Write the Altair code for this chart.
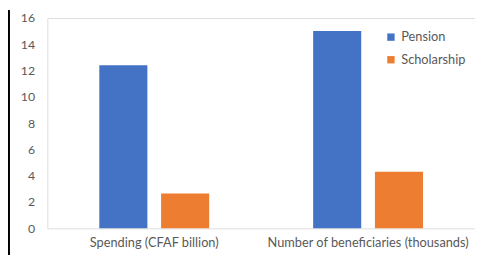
import altair as alt
import pandas as pd

categories = ["Spending (CFAF billion)", "Number of beneficiaries (thousands)"]
series = ["Pension", "Scholarship"]
pension = [12.4, 15.0]
scholarship = [2.65, 4.3]
y_ticks = [0, 2, 4, 6, 8, 10, 12, 14, 16]
colors = ["#4472C4", "#ED7D31"]

rows = []
for c, p, s in zip(categories, pension, scholarship):
    rows.append({"category": c, "series": series[0], "value": p})
    rows.append({"category": c, "series": series[1], "value": s})
df = pd.DataFrame(rows)

FONT = "Lato"
TXT = "#595959"

bars = alt.Chart(df).mark_bar().encode(
    x=alt.X("category:N", sort=categories,
            scale=alt.Scale(paddingInner=0, paddingOuter=0),
            axis=alt.Axis(title=None, labelAngle=0, ticks=False, domain=False,
                          labelFont=FONT, labelFontSize=13, labelColor=TXT,
                          labelPadding=8, labelLimit=0)),
    xOffset=alt.XOffset("series:N", sort=series,
                        scale=alt.Scale(paddingInner=0.222, paddingOuter=0.841)),
    y=alt.Y("value:Q", scale=alt.Scale(domain=[0, 16], nice=False),
            axis=alt.Axis(title=None, values=y_ticks, ticks=False, domain=False,
                          grid=False, labelFont=FONT, labelFontSize=12.5,
                          labelColor=TXT, labelPadding=13)),
    color=alt.Color("series:N", sort=series,
                    scale=alt.Scale(domain=series, range=colors),
                    legend=alt.Legend(title=None, orient="none", legendX=343,
                                      legendY=13, symbolType="square",
                                      symbolSize=56, symbolStrokeWidth=0,
                                      labelFont=FONT, labelFontSize=13,
                                      labelColor=TXT, rowPadding=9,
                                      labelOffset=4, padding=0)),
)

border = alt.Chart(pd.DataFrame({"a": [0]})).mark_rule(
    color="#000000", strokeWidth=2
).encode(x=alt.value(-39), y=alt.value(-8), y2=alt.value(241))

chart = alt.layer(bars, border).properties(
    width=435, height=214,
    autosize=alt.AutoSizeParams(type="none"),
    padding={"left": 40, "top": 8, "right": 0, "bottom": 27},
).configure_view(stroke="#D9D9D9", strokeWidth=1).configure(background="white")

chart.save("out.html", embed_options={"renderer": "svg", "actions": False})
